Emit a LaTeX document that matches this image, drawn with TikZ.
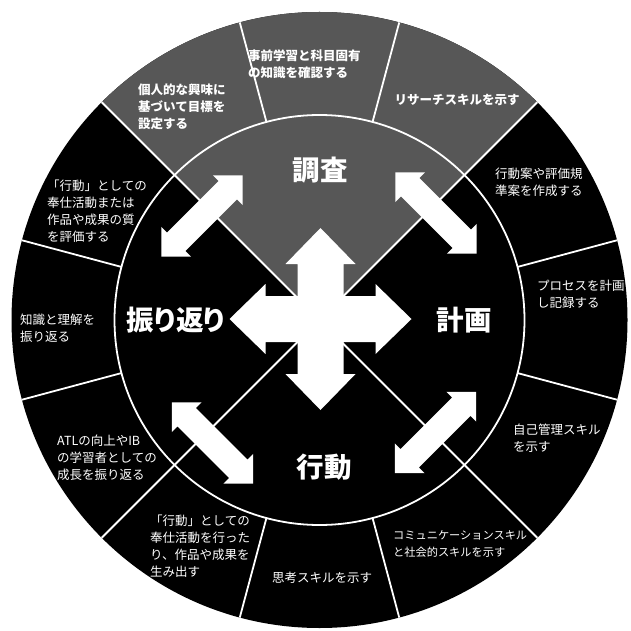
\documentclass[tikz,border=0pt]{standalone}
\usepackage{fontspec}
\newfontfamily\jp{Noto Sans CJK JP}
\definecolor{scangray}{gray}{0.34}
\begin{document}
\begin{tikzpicture}[x=1pt,y=1pt]
\tikzset{
  seg/.style={text=white, font=\jp\fontsize{12.5}{17}\selectfont, align=left, inner sep=0pt, anchor=west},
  segb/.style={seg, font=\jp\bfseries\fontsize{12.5}{17}\selectfont},
  big/.style={text=white, font=\jp\bfseries\fontsize{27.5}{30}\selectfont, inner sep=0pt},
  divider/.style={white, line width=1.8pt},
  dbl/.pic={\fill[white] (-57.5,0) -- (-36.5,21) -- (-36.5,13) -- (36.5,13) -- (36.5,21) -- (57.5,0)
      -- (36.5,-21) -- (36.5,-13) -- (-36.5,-13) -- (-36.5,-21) -- cycle;},
  cross/.pic={\fill[white] (91,0) -- (55,35) -- (55,23) -- (23,23) -- (23,55) -- (35,55) -- (0,91)
      -- (-35,55) -- (-23,55) -- (-23,23) -- (-55,23) -- (-55,35) -- (-91,0) -- (-55,-35) -- (-55,-23)
      -- (-23,-23) -- (-23,-55) -- (-35,-55) -- (0,-91) -- (35,-55) -- (23,-55) -- (23,-23) -- (55,-23)
      -- (55,-35) -- cycle;}
}
\fill[white] (0,0) rectangle (631,630);
\useasboundingbox (0,0) rectangle (631,630);
\coordinate (C) at (319.5,310);
% rings and sectors
\fill[black] (C) circle (308);
\fill[scangray] (C) -- ++(45:308) arc (45:135:308) -- cycle;
\begin{scope}
  \clip (C) circle (308);
  \draw[divider] (C) circle (205);
  \foreach \a in {45,135,225,315} \draw[divider] (C) -- ++(\a:312);
  \foreach \a in {15,75,105,165,195,255,285,345}
    \draw[divider] ([shift={(\a:205)}]C) -- ([shift={(\a:312)}]C);
\end{scope}
% arrows
\pic[rotate=45] at (202,414) {dbl};
\pic[rotate=-45] at (436,417) {dbl};
\pic[rotate=-45] at (212.5,187) {dbl};
\pic[rotate=45] at (435.5,197.5) {dbl};
\pic at (320.5,311) {cross};
% big labels
\node[big] (inv) at (320,460) {調査};
\node[big] (pla) at (464,310) {計画};
\node[big] (act) at (324,163) {行動};
\node[big, font=\jp\bfseries\fontsize{27.5}{30}\selectfont\addfontfeature{RawFeature=+palt}] (ref) at (176,310) {振り返り};
% ring labels
\node[segb] (s1) at (138,523) {個人的な興味に\\基づいて目標を\\設定する};
\node[segb] (s2) at (248,566) {事前学習と科目固有\\の知識を確認する};
\node[segb, anchor=center] (s3) at (457,530) {リサーチスキルを示す};
\node[seg] (s4) at (495,448) {行動案や評価規\\準案を作成する};
\node[seg] (s5) at (537,336) {プロセスを計画\\し記録する};
\node[seg] (s6) at (513,192) {自己管理スキル\\を示す};
\node[seg, font=\jp\fontsize{11.2}{17}\selectfont] (s7) at (393,86) {コミュニケーションスキル\\と社会的スキルを示す};
\node[seg, anchor=center] (s8) at (322,52) {思考スキルを示す};
\node[seg] (s9) at (150,84) {「行動」としての\\奉仕活動を行った\\り、作品や成果を\\生み出す};
\node[seg] (s10) at (57,172) {ATLの向上やIB\\の学習者としての\\成長を振り返る};
\node[seg] (s11) at (20,302) {知識と理解を\\振り返る};
\node[seg] (s12) at (47,419) {「行動」としての\\奉仕活動または\\作品や成果の質\\を評価する};
\end{tikzpicture}
\end{document}
